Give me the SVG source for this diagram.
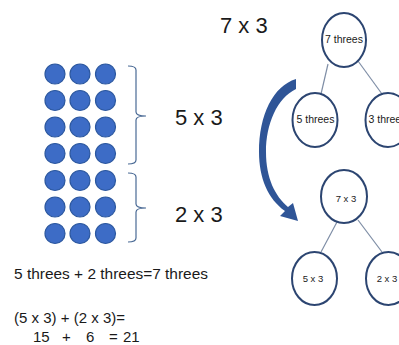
<svg xmlns="http://www.w3.org/2000/svg" width="399" height="345" viewBox="0 0 399 345">
<style>
.dot{fill:#3d6cc6;stroke:#2b579f;stroke-width:1.2}
.br{fill:none;stroke:#4a6a95;stroke-width:1.2}
.big{font-family:"Liberation Sans",Arial,sans-serif;font-size:22px;fill:#1a1a1a}
.txt{font-family:"Liberation Sans",Arial,sans-serif;font-size:15px;fill:#1a1a1a}
.nd{fill:#fff;stroke:#2c4571;stroke-width:2}
.nt{font-family:"Liberation Sans",Arial,sans-serif;font-size:10.5px;fill:#1a1a1a;text-anchor:middle}
.ns{font-family:"Liberation Sans",Arial,sans-serif;font-size:9.5px;fill:#1a1a1a;text-anchor:middle}
.ln{stroke:#7f8ea6;stroke-width:1.2;fill:none}
</style>
<rect width="399" height="345" fill="#fff"/>
<g id="dots">
<circle class="dot" cx="55" cy="74" r="10"/><circle class="dot" cx="80" cy="74" r="10"/><circle class="dot" cx="105.5" cy="74" r="10"/>
<circle class="dot" cx="55" cy="100.5" r="10"/><circle class="dot" cx="80" cy="100.5" r="10"/><circle class="dot" cx="105.5" cy="100.5" r="10"/>
<circle class="dot" cx="55" cy="127" r="10"/><circle class="dot" cx="80" cy="127" r="10"/><circle class="dot" cx="105.5" cy="127" r="10"/>
<circle class="dot" cx="55" cy="153.5" r="10"/><circle class="dot" cx="80" cy="153.5" r="10"/><circle class="dot" cx="105.5" cy="153.5" r="10"/>
<circle class="dot" cx="55" cy="180.5" r="10"/><circle class="dot" cx="80" cy="180.5" r="10"/><circle class="dot" cx="105.5" cy="180.5" r="10"/>
<circle class="dot" cx="55" cy="207" r="10"/><circle class="dot" cx="80" cy="207" r="10"/><circle class="dot" cx="105.5" cy="207" r="10"/>
<circle class="dot" cx="55" cy="233.5" r="10"/><circle class="dot" cx="80" cy="233.5" r="10"/><circle class="dot" cx="105.5" cy="233.5" r="10"/>
</g>
<g id="brackets">
<path class="br" d="M128,66 Q136,66 136,70 L136,112 Q136,116 146,116 Q136,116 136,120 L136,160 Q136,164 128,164"/>
<path class="br" d="M128,173 Q136,173 136,177 L136,204 Q136,208 146,208 Q136,208 136,212 L136,238 Q136,242 128,242"/>
</g>
<text class="big" x="220" y="33">7 x 3</text>
<text class="big" x="175" y="125">5 x 3</text>
<text class="big" x="175" y="222">2 x 3</text>
<text class="txt" x="14" y="279" textLength="194" lengthAdjust="spacingAndGlyphs">5 threes + 2 threes=7 threes</text>
<text class="txt" x="14" y="323" textLength="111" lengthAdjust="spacingAndGlyphs">(5 x 3) + (2 x 3)=</text>
<text class="txt" y="342"><tspan x="33">15</tspan><tspan x="62">+</tspan><tspan x="86">6</tspan><tspan x="109">=</tspan><tspan x="123">21</tspan></text>
<path id="arrow" fill="#2f5597" d="M296,79 C273,86 259,115 259,152 C259,178 268,199 285,211 L280,216 L298,221 L293,203 L288,207 C275,196 266,178 266,152 C266,124 277,98 296,89 Z"/>
<g id="connectors">
<line class="ln" x1="328" y1="64" x2="321" y2="94"/>
<line class="ln" x1="358" y1="61" x2="382" y2="94"/>
<line class="ln" x1="337" y1="222" x2="321" y2="252"/>
<line class="ln" x1="358" y1="220" x2="382" y2="252"/>
</g>
<g id="n1"><ellipse class="nd" cx="344" cy="40" rx="22" ry="27"/><text class="nt" x="344" y="43">7 threes</text></g>
<g id="n2"><ellipse class="nd" cx="315" cy="120" rx="22.5" ry="27"/><text class="nt" x="315.5" y="123">5 threes</text></g>
<g id="n3"><ellipse class="nd" cx="388" cy="120" rx="22.5" ry="27"/><text class="nt" x="387.5" y="123">3 threes</text></g>
<g id="n4"><ellipse class="nd" cx="344" cy="196.5" rx="23" ry="26.5"/><text class="ns" x="346" y="202">7 x 3</text></g>
<g id="n5"><ellipse class="nd" cx="314.5" cy="278.5" rx="22.5" ry="26.5"/><text class="ns" x="313" y="282">5 x 3</text></g>
<g id="n6"><ellipse class="nd" cx="388.5" cy="278.5" rx="22.5" ry="26.5"/><text class="ns" x="387" y="282">2 x 3</text></g>
</svg>
